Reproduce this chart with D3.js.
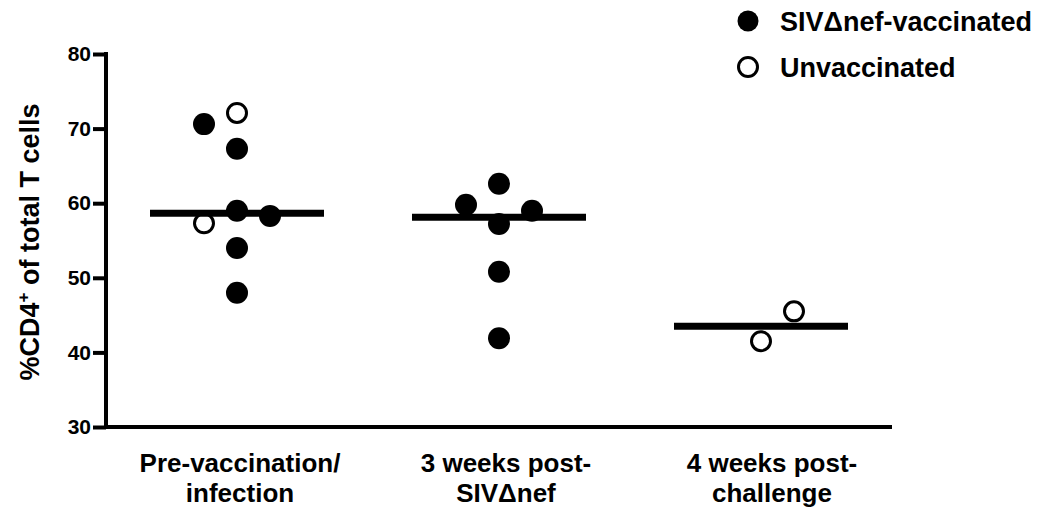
<!DOCTYPE html>
<html>
<head>
<meta charset="utf-8">
<script src="https://cdn.jsdelivr.net/npm/d3@7"></script>
<style>
  body { margin: 0; background: #fff; }
  svg { display: block; font-family: "Liberation Sans", Arial, sans-serif; }
</style>
</head>
<body>
<svg id="chart" width="1050" height="522"></svg>
<script>
// ---- data ----
const categories = ["Pre-vaccination/|infection", "3 weeks post-|SIV\u0394nef", "4 weeks post-|challenge"];
const groupIndex = [0, 0, 0, 0, 0, 0, 0, 0, 1, 1, 1, 1, 1, 1, 2, 2];
const values     = [70.6, 72.1, 67.3, 59.0, 58.3, 57.3, 54.0, 48.0, 62.6, 59.8, 59.0, 57.2, 50.8, 41.9, 45.5, 41.5];
const vaccinated = [true, false, true, true, true, false, true, true, true, true, true, true, true, true, false, false];
const slot       = [-1, 0, 0, 0, 1, -1, 0, 0, 0, -1, 1, 0, 0, 0, 1, 0];
const yTicks = [30, 40, 50, 60, 70, 80];
const legendLabels = ["SIV\u0394nef-vaccinated", "Unvaccinated"];
const yTitle = "%CD4";

// ---- layout ----
const svg = d3.select("#chart");
const x = d3.scaleBand().domain(d3.range(categories.length)).range([106, 892]).padding(0);
const y = d3.scaleLinear().domain([30, 80]).range([427, 54]);
const slotStep = 33;
const r = 11;

const points = values.map((v, i) => ({ g: groupIndex[i], v, vac: vaccinated[i], s: slot[i] }));

// y axis
const yAxis = svg.append("g")
  .attr("transform", `translate(${x.range()[0]},0)`)
  .call(d3.axisLeft(y).tickValues(yTicks).tickSize(13).tickPadding(2).tickSizeOuter(0));
yAxis.select(".domain").attr("stroke", "#000").attr("stroke-width", 4).attr("d", `M0,${y(80)-2}V${y(30)}`);
yAxis.selectAll(".tick line").attr("stroke", "#000").attr("stroke-width", 4);
yAxis.selectAll(".tick text").attr("font-size", 21).attr("font-weight", "bold").attr("fill", "#000")
  .attr("font-family", "Liberation Sans, Arial, sans-serif");

// x axis line
svg.append("line")
  .attr("x1", x.range()[0] - 2).attr("x2", x.range()[1])
  .attr("y1", y(30)).attr("y2", y(30))
  .attr("stroke", "#000").attr("stroke-width", 4);

// x labels
categories.forEach((c, i) => {
  const lines = c.split("|");
  const cxl = x(i) + x.bandwidth() / 2 + 3 + i * 4;
  const t = svg.append("text")
    .attr("x", cxl)
    .attr("y", 472)
    .attr("text-anchor", "middle")
    .attr("font-weight", "bold")
    .attr("font-size", 26)
    .attr("fill", "#000");
  lines.forEach((l, k) => {
    t.append("tspan").attr("x", cxl).attr("dy", k === 0 ? 0 : 30).text(l);
  });
});

// y title
const yt = svg.append("text")
  .attr("transform", "translate(39,242) rotate(-90)")
  .attr("text-anchor", "middle")
  .attr("font-weight", "bold")
  .attr("font-size", 27)
  .attr("fill", "#000");
yt.append("tspan").text(yTitle);
yt.append("tspan").attr("dy", -10).attr("font-size", 17).text("+");
yt.append("tspan").attr("dy", 10).text(" of total T cells");

// points
const cx = d => x(d.g) + x.bandwidth() / 2 + d.s * slotStep;
svg.append("g").selectAll("circle").data(points).join("circle")
  .attr("cx", cx)
  .attr("cy", d => y(d.v))
  .attr("r", d => d.vac ? r : r - 1.5)
  .attr("fill", d => d.vac ? "#000" : "#fff")
  .attr("stroke", "#000")
  .attr("stroke-width", d => d.vac ? 0 : 3);

// median lines
const medians = d3.range(categories.length).map(g => ({ g, m: d3.median(points.filter(p => p.g === g), p => p.v) }));
svg.append("g").selectAll("line").data(medians).join("line")
  .attr("x1", d => x(d.g) + x.bandwidth() / 2 - 87)
  .attr("x2", d => x(d.g) + x.bandwidth() / 2 + 87)
  .attr("y1", d => y(d.m)).attr("y2", d => y(d.m))
  .attr("stroke", "#000").attr("stroke-width", 7);

// legend
const lg = svg.append("g");
legendLabels.forEach((l, i) => {
  const yy = 21 + i * 46;
  lg.append("circle").attr("cx", 748).attr("cy", yy)
    .attr("r", i === 0 ? 10.5 : 9.5)
    .attr("fill", i === 0 ? "#000" : "#fff")
    .attr("stroke", "#000").attr("stroke-width", i === 0 ? 0 : 3);
  lg.append("text").attr("x", 780).attr("y", yy + 10)
    .attr("font-weight", "bold").attr("font-size", 27).attr("fill", "#000").text(l);
});
</script>
</body>
</html>
